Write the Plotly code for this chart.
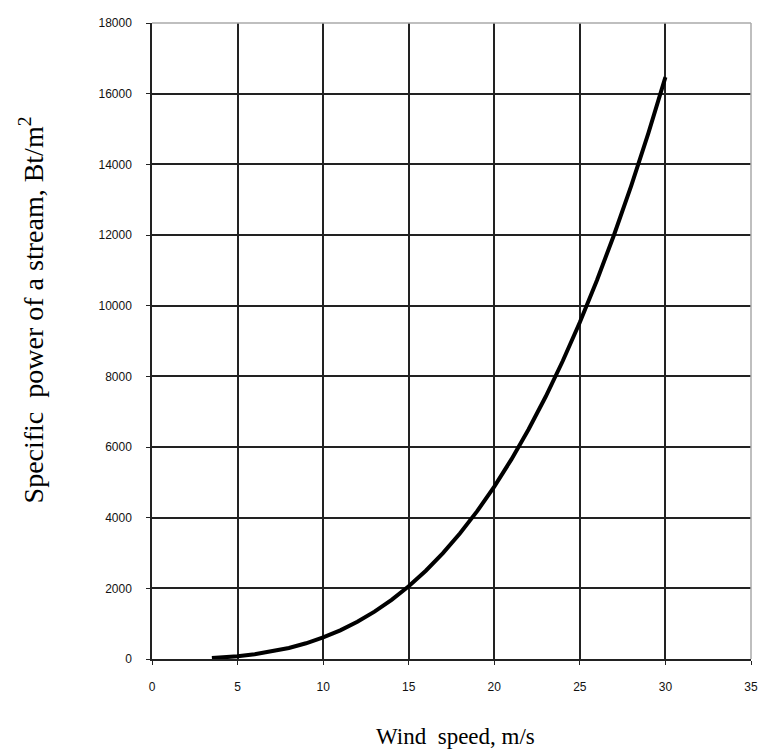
import plotly.graph_objects as go

wind_speed = [3.5, 4, 5, 6, 7, 8, 9, 10, 11, 12, 13, 14, 15, 16, 17, 18, 19, 20,
              21, 22, 23, 24, 25, 26, 27, 28, 29, 30]
specific_power = [26, 39, 76, 132, 209, 312, 445, 610, 812, 1054, 1340, 1674, 2059,
                  2499, 2997, 3558, 4184, 4880, 5649, 6495, 7422, 8433, 9531, 10721,
                  12007, 13391, 14877, 16470]

x_ticks = [0, 5, 10, 15, 20, 25, 30, 35]
y_ticks = [0, 2000, 4000, 6000, 8000, 10000, 12000, 14000, 16000, 18000]

x_title = "Wind  speed, m/s"
y_title = "Specific  power of a stream, Bt/m<sup>2</sup>"

fig = go.Figure()
fig.add_trace(go.Scatter(x=wind_speed, y=specific_power, mode="lines",
                         line=dict(color="black", width=4), showlegend=False))

tickfont = dict(family="Liberation Sans, Arial", size=12, color="#111")
serif = "Liberation Serif, Times New Roman"

fig.update_layout(
    width=768, height=753,
    margin=dict(l=152, r=10, t=23, b=94),
    paper_bgcolor="white", plot_bgcolor="white",
    xaxis=dict(range=[0, 35], tickvals=x_ticks, ticktext=[str(v) for v in x_ticks],
               showgrid=True, gridcolor="#222", gridwidth=1.5,
               showline=True, linecolor="#222", linewidth=1.5,
               ticks="outside", ticklen=4, tickcolor="#222",
               tickfont=tickfont, zeroline=False, ticklabelstandoff=12),
    yaxis=dict(range=[0, 18000], tickvals=y_ticks, ticktext=[str(v) for v in y_ticks],
               showgrid=True, gridcolor="#222", gridwidth=1.5,
               showline=True, linecolor="#222", linewidth=1.5,
               ticks="outside", ticklen=4, tickcolor="#222",
               tickfont=tickfont, zeroline=False, ticklabelstandoff=12),
    annotations=[
        dict(text=x_title, xref="paper", yref="paper", x=0.507, y=-0.122,
             xanchor="center", yanchor="middle", showarrow=False,
             font=dict(family=serif, size=23, color="black")),
        dict(text=y_title, xref="paper", yref="paper", x=-0.201, y=0.549,
             xanchor="center", yanchor="middle", showarrow=False, textangle=-90,
             font=dict(family=serif, size=28, color="black")),
    ],
    shapes=[
        dict(type="line", xref="paper", yref="paper", x0=0, x1=1, y0=1, y1=1,
             line=dict(color="#aaa", width=1.5), layer="above"),
        dict(type="line", xref="paper", yref="paper", x0=1, x1=1, y0=0, y1=1,
             line=dict(color="#aaa", width=1.5), layer="above"),
    ],
)

fig.write_html("out.html")
